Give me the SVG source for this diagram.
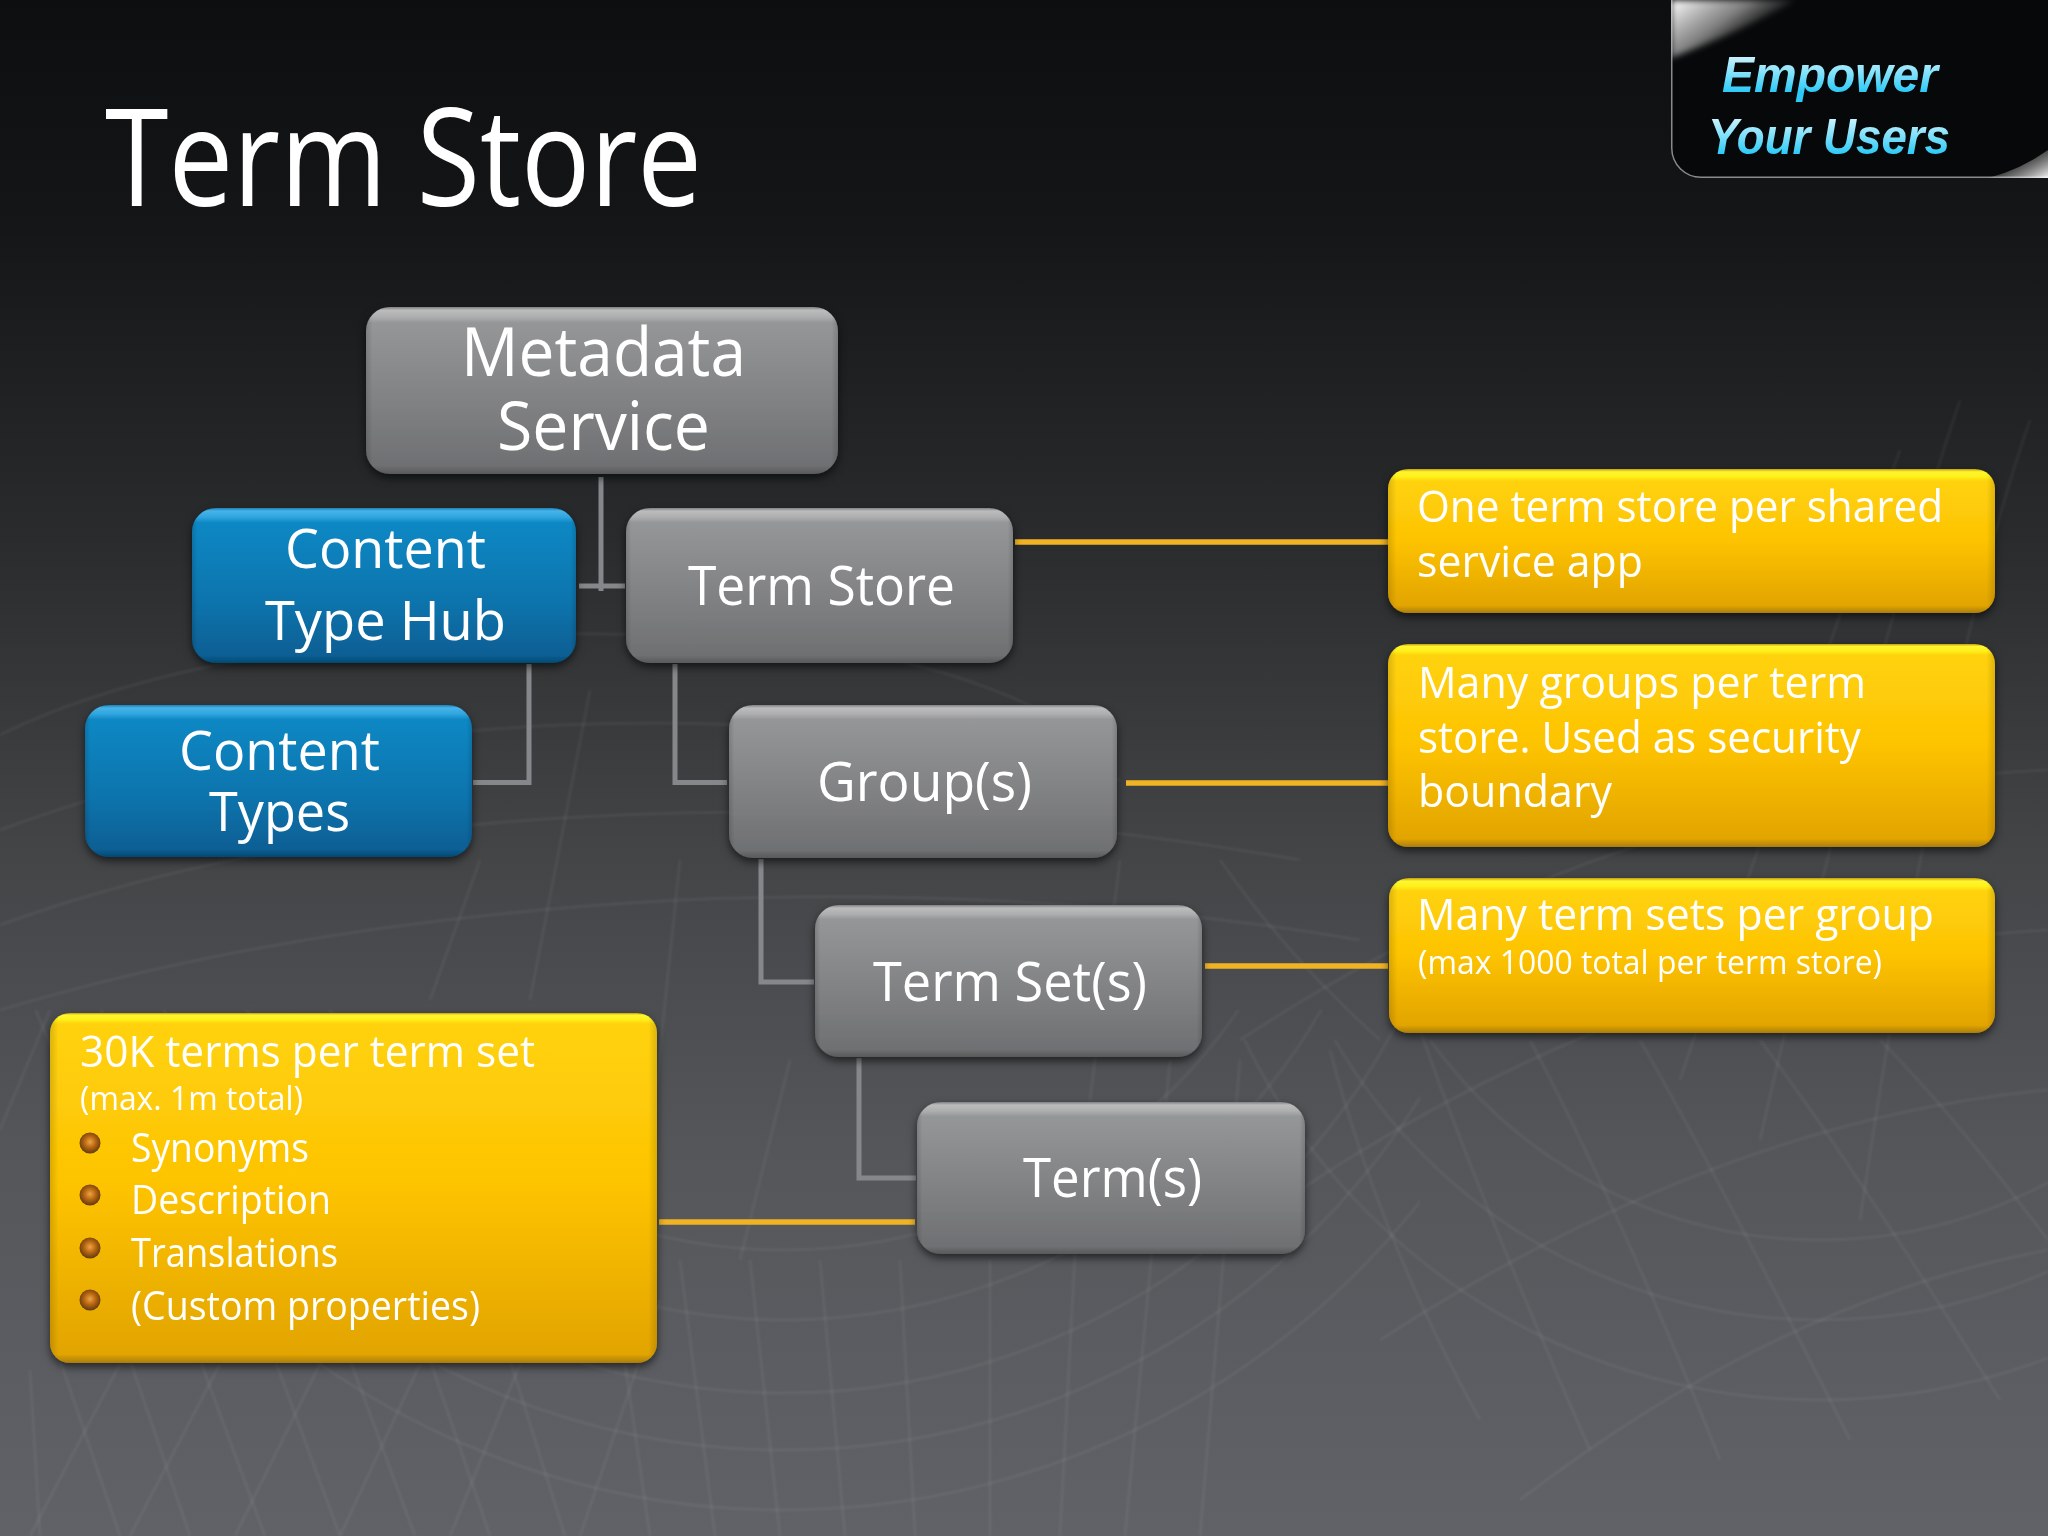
<svg xmlns="http://www.w3.org/2000/svg" width="2048" height="1536" viewBox="0 0 2048 1536">
<defs>
<linearGradient id="bg" x1="0" y1="0" x2="0" y2="1">
<stop offset="0" stop-color="#0d0e10"/><stop offset="0.14" stop-color="#141517"/><stop offset="0.35" stop-color="#292b2d"/><stop offset="0.55" stop-color="#434446"/><stop offset="0.75" stop-color="#54565a"/><stop offset="1" stop-color="#616267"/>
</linearGradient>
<linearGradient id="gray" x1="0" y1="0" x2="0" y2="1">
<stop offset="0" stop-color="#7f8082"/><stop offset="0.02" stop-color="#bcbcbc"/><stop offset="0.06" stop-color="#adaeaf"/><stop offset="0.095" stop-color="#959698"/><stop offset="0.6" stop-color="#7f8082"/><stop offset="0.95" stop-color="#6f7072"/><stop offset="1" stop-color="#58595b"/>
</linearGradient>
<linearGradient id="blue" x1="0" y1="0" x2="0" y2="1">
<stop offset="0" stop-color="#1b7fb5"/><stop offset="0.02" stop-color="#46b5ea"/><stop offset="0.06" stop-color="#2fa4de"/><stop offset="0.095" stop-color="#0f88c4"/><stop offset="0.6" stop-color="#0b74ad"/><stop offset="0.95" stop-color="#075f94"/><stop offset="1" stop-color="#064a74"/>
</linearGradient>
<linearGradient id="yellow" x1="0" y1="0" x2="0" y2="1">
<stop offset="0" stop-color="#c49d0c"/><stop offset="0.02" stop-color="#fff62e"/><stop offset="0.055" stop-color="#fff01c"/><stop offset="0.085" stop-color="#ffd209"/><stop offset="0.5" stop-color="#fdc305"/><stop offset="0.95" stop-color="#e2a402"/><stop offset="1" stop-color="#a87d0c"/>
</linearGradient>
<linearGradient id="yellow2" x1="0" y1="0" x2="0" y2="1">
<stop offset="0" stop-color="#c49d0c"/><stop offset="0.012" stop-color="#fff62e"/><stop offset="0.035" stop-color="#fff01c"/><stop offset="0.055" stop-color="#ffd209"/><stop offset="0.5" stop-color="#fdc305"/><stop offset="0.96" stop-color="#e2a402"/><stop offset="1" stop-color="#a87d0c"/>
</linearGradient>
<linearGradient id="yellow3" x1="0" y1="0" x2="0" y2="1">
<stop offset="0" stop-color="#c49d0c"/><stop offset="0.006" stop-color="#fff62e"/><stop offset="0.018" stop-color="#fff01c"/><stop offset="0.032" stop-color="#ffd209"/><stop offset="0.5" stop-color="#fdc305"/><stop offset="0.975" stop-color="#e2a402"/><stop offset="1" stop-color="#a87d0c"/>
</linearGradient>
<linearGradient id="rim" x1="0" y1="0" x2="1" y2="0">
<stop offset="0" stop-color="#000" stop-opacity="0.14"/><stop offset="0.014" stop-color="#000" stop-opacity="0"/><stop offset="0.986" stop-color="#000" stop-opacity="0"/><stop offset="1" stop-color="#000" stop-opacity="0.14"/>
</linearGradient>
<linearGradient id="cyan" x1="0" y1="0" x2="0" y2="1">
<stop offset="0" stop-color="#f4fcff"/><stop offset="0.45" stop-color="#86e2fb"/><stop offset="0.8" stop-color="#2ccaf7"/>
</linearGradient>
<linearGradient id="gloss1" gradientUnits="userSpaceOnUse" x1="1680" y1="0" x2="1725" y2="62">
<stop offset="0" stop-color="#ffffff" stop-opacity="0.95"/><stop offset="0.55" stop-color="#c0c0c0" stop-opacity="0.65"/><stop offset="1" stop-color="#808080" stop-opacity="0"/>
</linearGradient>
<linearGradient id="gloss2" x1="1" y1="1" x2="0.2" y2="0.3">
<stop offset="0" stop-color="#ffffff" stop-opacity="0.95"/><stop offset="1" stop-color="#a0a0a0" stop-opacity="0"/>
</linearGradient>
<radialGradient id="ball" cx="0.5" cy="0.45" r="0.55">
<stop offset="0" stop-color="#eda544"/><stop offset="0.5" stop-color="#b86510"/><stop offset="1" stop-color="#5f3a12"/>
</radialGradient>
<filter id="shadow" x="-5%" y="-5%" width="110%" height="115%">
<feDropShadow dx="0" dy="4" stdDeviation="4" flood-color="#000" flood-opacity="0.6"/>
</filter>
<filter id="soft" x="-5%" y="-5%" width="110%" height="110%"><feGaussianBlur stdDeviation="1"/></filter>
<filter id="soft2" x="-20%" y="-20%" width="140%" height="140%"><feGaussianBlur stdDeviation="3"/></filter>
<clipPath id="panelClip"><rect x="1671" y="-30" width="420" height="208" rx="30"/></clipPath>
<clipPath id="lowerLeft"><rect x="0" y="1010" width="1420" height="526"/></clipPath>
<clipPath id="lowerRight"><rect x="1240" y="1040" width="808" height="496"/></clipPath>
</defs>
<style>
text{font-family:"Open Sans","Noto Sans","Liberation Sans",sans-serif;fill:#fff}
.box{filter:url(#shadow)}
.rim{fill:url(#rim)}
.g{fill:url(#gray)}.b{fill:url(#blue)}.y{fill:url(#yellow)}.y2{fill:url(#yellow2)}.y3{fill:url(#yellow3)}
.t67{font-size:67px}.t54{font-size:54px}.t44{font-size:44px}.t40{font-size:40px}.t33{font-size:33px}
.tie{fill:none;stroke:#85878a;stroke-width:5;stroke-linejoin:miter}
.note{fill:none;stroke:#f0b323;stroke-width:5.5}
.mesh path,.mesh circle{fill:none;stroke:#fff;stroke-opacity:.05;stroke-width:3}
.bul{fill:url(#ball)}
</style>
<rect id="background" width="2048" height="1536" fill="url(#bg)"/>
<g class="mesh" filter="url(#soft)">
<path d="M0 735Q120 675 330 645Q620 620 840 650Q960 668 1060 720"/>
<path d="M0 830Q240 740 560 725Q860 712 1120 780"/>
<path d="M0 925Q260 830 620 815Q960 800 1300 860"/>
<path d="M0 1010Q300 920 680 900Q1040 885 1360 940"/>
<g clip-path="url(#lowerLeft)"><circle cx="784" cy="700" r="810"/><circle cx="784" cy="700" r="750"/><circle cx="784" cy="700" r="693"/><circle cx="784" cy="700" r="620"/><circle cx="784" cy="700" r="550"/></g>
<g clip-path="url(#lowerRight)"><circle cx="1820" cy="760" r="640"/><circle cx="1820" cy="760" r="560"/><circle cx="1820" cy="760" r="480"/></g>
<path d="M1240 1040Q1620 790 2048 770"/><path d="M1300 1190Q1660 950 2048 930"/><path d="M1380 1340Q1720 1120 2048 1090"/><path d="M1520 1500Q1780 1300 2048 1250"/>
<path d="M1960 400Q1860 700 1760 1140"/><path d="M2030 420Q1940 680 1860 1220"/><path d="M1900 450Q1800 720 1680 1080"/>
<path d="M1420 1030Q1480 1200 1590 1450"/><path d="M1530 1040Q1620 1210 1720 1460"/><path d="M1640 1040Q1720 1180 1850 1440"/><path d="M1760 1040Q1850 1160 2000 1400"/><path d="M1880 1040Q1950 1110 2048 1240"/>
<path d="M1330 1050Q1380 1240 1480 1420"/><path d="M1440 900Q1500 960 1580 1030"/><path d="M1220 860Q1290 960 1380 1040"/>
<path d="M60 1360L120 1536"/><path d="M130 1360L190 1536"/><path d="M200 1360L265 1536"/><path d="M275 1360L340 1536"/><path d="M350 1360L415 1536"/><path d="M430 1360L490 1536"/><path d="M510 1360L565 1536"/>
<path d="M610 1260L650 1536"/><path d="M680 1260L715 1536"/><path d="M750 1260L780 1536"/><path d="M820 1260L845 1536"/><path d="M900 1260L915 1536"/><path d="M990 1260L990 1536"/><path d="M1080 1160L1060 1536"/><path d="M1170 1060L1125 1536"/>
<path d="M120 1364L30 1536"/><path d="M220 1364L130 1536"/><path d="M320 1364L235 1536"/><path d="M420 1364L340 1536"/><path d="M520 1364L450 1536"/><path d="M660 1300L580 1536"/>
<path d="M480 860L430 1000"/><path d="M590 690L530 1000"/><path d="M680 860L640 1240"/><path d="M790 1060L740 1260"/>
<path d="M1120 860L1090 1100"/><path d="M1240 1060L1200 1536"/><path d="M0 1130L50 1010"/><path d="M40 1536L30 1370"/>
</g>
<text id="title" x="105" y="206" font-size="135" textLength="597" lengthAdjust="spacingAndGlyphs">Term Store</text>
<g id="badge">
<g clip-path="url(#panelClip)">
<rect x="1671" y="-30" width="420" height="208" rx="30" fill="#070809" stroke="#8a8a8a" stroke-width="3"/>
<path d="M1671 58L1671 0L1795 0Q1740 32 1671 58Z" fill="url(#gloss1)" filter="url(#soft2)"/>
<path d="M2048 150L2048 178L1988 178Q2020 170 2048 150Z" fill="url(#gloss2)"/>
</g>
<text x="1722" y="92" textLength="216" lengthAdjust="spacingAndGlyphs" style="font-family:'Liberation Sans',Arial,sans-serif;font-weight:700;font-style:italic;font-size:50px;fill:url(#cyan)">Empower</text>
<text x="1708" y="154" textLength="242" lengthAdjust="spacingAndGlyphs" style="font-family:'Liberation Sans',Arial,sans-serif;font-weight:700;font-style:italic;font-size:50px;fill:url(#cyan)">Your Users</text>
</g>
<g id="connectors">
<path class="tie" d="M601 477V591"/>
<path class="tie" d="M579 586H625"/>
<path class="tie" d="M529 664V782.5H473"/>
<path class="tie" d="M675 664V782.5H727"/>
<path class="tie" d="M761 859V982H814"/>
<path class="tie" d="M859 1058V1178H916"/>
<path class="note" d="M1015 542H1388"/>
<path class="note" d="M1126 783H1388"/>
<path class="note" d="M1205 966H1388"/>
<path class="note" d="M659 1222H915"/>
</g>
<g id="metadata-service"><rect class="box g" x="366" y="307" width="472" height="167" rx="24"/><rect class="rim" x="366" y="307" width="472" height="167" rx="24"/>
<text class="t67" x="461" y="376" textLength="285" lengthAdjust="spacingAndGlyphs">Metadata</text>
<text class="t67" x="497" y="450" textLength="213" lengthAdjust="spacingAndGlyphs">Service</text></g>
<g id="content-type-hub"><rect class="box b" x="192" y="508" width="384" height="155" rx="24"/><rect class="rim" x="192" y="508" width="384" height="155" rx="24"/>
<text class="t54" x="285" y="568" textLength="201" lengthAdjust="spacingAndGlyphs">Content</text>
<text class="t54" x="265" y="640" textLength="241" lengthAdjust="spacingAndGlyphs">Type Hub</text></g>
<g id="content-types"><rect class="box b" x="85" y="705" width="387" height="152" rx="24"/><rect class="rim" x="85" y="705" width="387" height="152" rx="24"/>
<text class="t54" x="179" y="770" textLength="201" lengthAdjust="spacingAndGlyphs">Content</text>
<text class="t54" x="209" y="831" textLength="141" lengthAdjust="spacingAndGlyphs">Types</text></g>
<g id="term-store"><rect class="box g" x="626" y="508" width="387" height="155" rx="24"/><rect class="rim" x="626" y="508" width="387" height="155" rx="24"/>
<text class="t54" x="688" y="605" textLength="267" lengthAdjust="spacingAndGlyphs">Term Store</text></g>
<g id="groups"><rect class="box g" x="729" y="705" width="388" height="153" rx="24"/><rect class="rim" x="729" y="705" width="388" height="153" rx="24"/>
<text class="t54" x="817" y="801" textLength="215" lengthAdjust="spacingAndGlyphs">Group(s)</text></g>
<g id="term-sets"><rect class="box g" x="815" y="905" width="387" height="152" rx="24"/><rect class="rim" x="815" y="905" width="387" height="152" rx="24"/>
<text class="t54" x="873" y="1001" textLength="274" lengthAdjust="spacingAndGlyphs">Term Set(s)</text></g>
<g id="terms"><rect class="box g" x="917" y="1102" width="388" height="152" rx="24"/><rect class="rim" x="917" y="1102" width="388" height="152" rx="24"/>
<text class="t54" x="1023" y="1197" textLength="179" lengthAdjust="spacingAndGlyphs">Term(s)</text></g>
<g id="note-store"><rect class="box y" x="1388" y="469" width="607" height="144" rx="20"/><rect class="rim" x="1388" y="469" width="607" height="144" rx="20"/>
<text class="t44" x="1417" y="522" textLength="526" lengthAdjust="spacingAndGlyphs">One term store per shared</text>
<text class="t44" x="1417" y="577" textLength="226" lengthAdjust="spacingAndGlyphs">service app</text></g>
<g id="note-groups"><rect class="box y2" x="1388" y="644" width="607" height="203" rx="20"/><rect class="rim" x="1388" y="644" width="607" height="203" rx="20"/>
<text class="t44" x="1418" y="698" textLength="448" lengthAdjust="spacingAndGlyphs">Many groups per term</text>
<text class="t44" x="1418" y="753" textLength="443" lengthAdjust="spacingAndGlyphs">store. Used as security</text>
<text class="t44" x="1418" y="807" textLength="194" lengthAdjust="spacingAndGlyphs">boundary</text></g>
<g id="note-term-sets"><rect class="box y" x="1389" y="878" width="606" height="155" rx="20"/><rect class="rim" x="1389" y="878" width="606" height="155" rx="20"/>
<text class="t44" x="1417" y="930" textLength="517" lengthAdjust="spacingAndGlyphs">Many term sets per group</text>
<text class="t33" x="1418" y="974" textLength="464" lengthAdjust="spacingAndGlyphs">(max 1000 total per term store)</text></g>
<g id="note-terms"><rect class="box y3" x="50" y="1013" width="607" height="350" rx="20"/><rect class="rim" x="50" y="1013" width="607" height="350" rx="20"/>
<text class="t44" x="80" y="1067" textLength="455" lengthAdjust="spacingAndGlyphs">30K terms per term set</text>
<text class="t33" x="80" y="1110" textLength="223" lengthAdjust="spacingAndGlyphs">(max. 1m total)</text>
<circle class="bul" cx="90" cy="1143" r="10.5"/><text class="t40" x="131" y="1162" textLength="178" lengthAdjust="spacingAndGlyphs">Synonyms</text>
<circle class="bul" cx="90" cy="1195" r="10.5"/><text class="t40" x="131" y="1214" textLength="200" lengthAdjust="spacingAndGlyphs">Description</text>
<circle class="bul" cx="90" cy="1248" r="10.5"/><text class="t40" x="131" y="1267" textLength="207" lengthAdjust="spacingAndGlyphs">Translations</text>
<circle class="bul" cx="90" cy="1300" r="10.5"/><text class="t40" x="131" y="1320" textLength="349" lengthAdjust="spacingAndGlyphs">(Custom properties)</text></g>
</svg>
